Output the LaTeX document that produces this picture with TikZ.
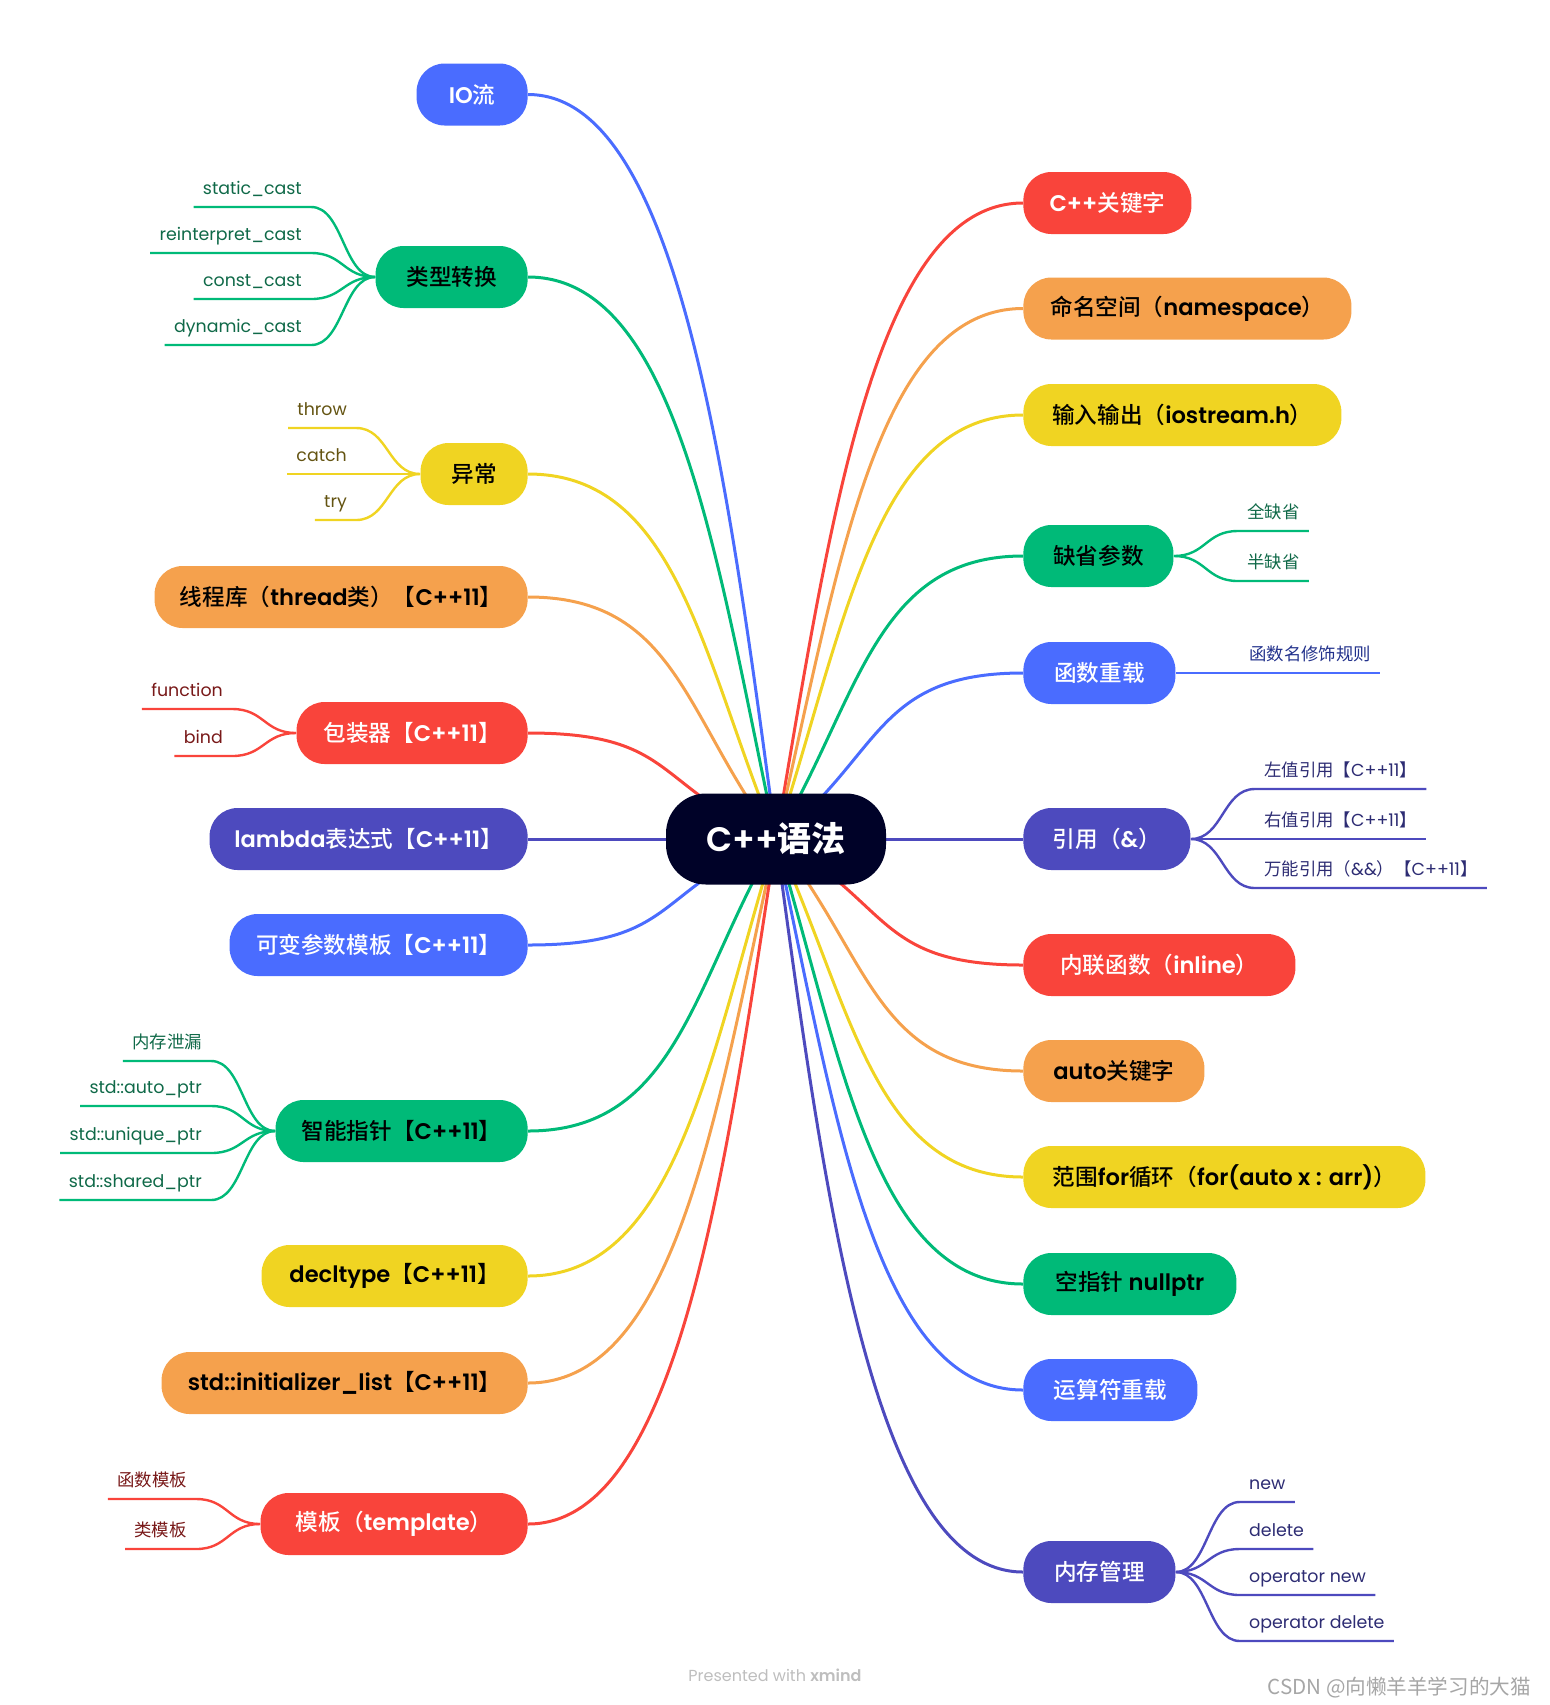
\documentclass[tikz,border=0pt]{standalone}
\usepackage{fontspec}
\setmainfont{Poppins}[BoldFont={Poppins SemiBold}]
\newfontfamily\zh{Noto Sans CJK SC}
\newfontfamily\zhm{Noto Sans CJK SC Medium}
\usetikzlibrary{calc,backgrounds,positioning}

\definecolor{cblue}{RGB}{74,108,255}
\definecolor{cgreen}{RGB}{0,186,120}
\definecolor{cyellow}{RGB}{240,212,34}
\definecolor{corange}{RGB}{245,161,77}
\definecolor{cred}{RGB}{249,68,59}
\definecolor{cindigo}{RGB}{77,74,190}
\definecolor{croot}{RGB}{0,2,40}
\definecolor{tgreen}{RGB}{15,105,72}
\definecolor{tyellow}{RGB}{100,84,18}
\definecolor{tred}{RGB}{120,24,24}
\definecolor{tblue}{RGB}{35,50,140}
\definecolor{tindigo}{RGB}{45,44,115}
\definecolor{tgray}{RGB}{190,190,190}

\newcommand\cn[1]{{\zhm\mdseries #1}}
\newcommand\cnb[1]{{\zh\bfseries #1}}
\newcommand\zhleaf[1]{{\zh #1}}

\tikzset{
  hub/.style   = {fill=croot, text=white, rounded corners=20pt, minimum width=110pt,
                  minimum height=45.5pt, inner sep=0pt, font=\fontsize{17}{20}\selectfont\bfseries},
  topic/.style = {fill=#1, rounded corners=14pt, minimum height=31pt, inner xsep=10pt,
                  inner ysep=0pt, font=\fontsize{11.3}{13}\selectfont\bfseries},
  leaf/.style  = {text=#1, inner xsep=4.5pt, inner ysep=0pt, text depth=6pt,
                  font=\fontsize{8.7}{10}\selectfont\let\cn\zhleaf},
  trunk/.style = {line width=1.5pt, draw=#1},
  twig/.style  = {line width=1.2pt, draw=#1},
}

\begin{document}
\begin{tikzpicture}[x=0.5pt, y=-0.5pt]
\useasboundingbox (0,0) rectangle (1550,1705);

\node[hub] (root) at (776,839) {C++\cnb{语法}};

% left topics
\node[topic=cblue, text=white, anchor=east, minimum width=55.5pt] (io) at (528,94.5) {IO\cn{流}};
\node[topic=cgreen, anchor=east, minimum width=76pt] (cast) at (528,277) {\cn{类型转换}};
\node[topic=cyellow, anchor=east, minimum width=53.5pt] (exc) at (528,474) {\cn{异常}};
\node[topic=corange, anchor=east, minimum width=186.5pt] (thread) at (528,597) {\cn{线程库（}thread\cn{类）【}C++11\cn{】}};
\node[topic=cred, text=white, anchor=east, minimum width=115.5pt] (wrap) at (528,733) {\cn{包装器【}C++11\cn{】}};
\node[topic=cindigo, text=white, anchor=east, minimum width=159pt] (lambda) at (528,839) {lambda\cn{表达式【}C++11\cn{】}};
\node[topic=cblue, text=white, anchor=east, minimum width=149pt] (varg) at (528,945) {\cn{可变参数模板【}C++11\cn{】}};
\node[topic=cgreen, anchor=east, minimum width=126pt] (smart) at (528,1131) {\cn{智能指针【}C++11\cn{】}};
\node[topic=cyellow, anchor=east, minimum width=133pt] (decl) at (528,1276) {decltype\cn{【}C++11\cn{】}};
\node[topic=corange, anchor=east, minimum width=183pt] (ilist) at (528,1383) {std::initializer\_list\cn{【}C++11\cn{】}};
\node[topic=cred, text=white, anchor=east, minimum width=133.5pt] (tmpl) at (528,1524) {\cn{模板（}template\cn{）}};

% right topics
\node[topic=cred, text=white, anchor=west, minimum width=84pt] (kw) at (1023,203) {C++\cn{关键字}};
\node[topic=corange, anchor=west, minimum width=164pt] (ns) at (1023,308.5) {\cn{命名空间（}namespace\cn{）}};
\node[topic=cyellow, anchor=west, minimum width=159pt] (iost) at (1023,415) {\cn{输入输出（}iostream.h\cn{）}};
\node[topic=cgreen, anchor=west, minimum width=75pt] (dflt) at (1023,556) {\cn{缺省参数}};
\node[topic=cblue, text=white, anchor=west, minimum width=76pt] (ovl) at (1023,673) {\cn{函数重载}};
\node[topic=cindigo, text=white, anchor=west, minimum width=83.5pt] (ref) at (1023,839) {\cn{引用（}\&\cn{）}};
\node[topic=cred, text=white, anchor=west, minimum width=136pt] (inl) at (1023,965) {\cn{内联函数（}inline\cn{）}};
\node[topic=corange, anchor=west, minimum width=90.5pt] (autok) at (1023,1071) {auto\cn{关键字}};
\node[topic=cyellow, anchor=west, minimum width=201pt] (rfor) at (1023,1177) {\cn{范围}for\cn{循环（}for(auto x : arr)\cn{）}};
\node[topic=cgreen, anchor=west, minimum width=106.5pt] (nullp) at (1023,1284) {\cn{空指针} nullptr};
\node[topic=cblue, text=white, anchor=west, minimum width=87pt] (opov) at (1023,1390) {\cn{运算符重载}};
\node[topic=cindigo, text=white, anchor=west, minimum width=76pt] (mem) at (1023,1572) {\cn{内存管理}};

\begin{scope}[on background layer]
  \foreach \nd/\al/\col in {io/0.20/cblue, cast/0.24/cgreen, exc/0.30/cyellow, thread/0.37/corange,
      wrap/0.50/cred, lambda/0.50/cindigo, varg/0.50/cblue, smart/0.34/cgreen,
      decl/0.27/cyellow, ilist/0.24/corange, tmpl/0.21/cred}
    \draw[trunk=\col] let \p1=(root.center), \p2=(\nd.east) in
      (\p1) .. controls ({\x1+\al*(\x2-\x1)},{\y1+0.5*(\y2-\y1)}) and ({\x2+0.6*(\x1-\x2)},{\y2}) .. (\p2);
  \foreach \nd/\al/\col in {kw/0.22/cred, ns/0.25/corange, iost/0.28/cyellow, dflt/0.34/cgreen,
      ovl/0.43/cblue, ref/0.50/cindigo, inl/0.47/cred, autok/0.38/corange,
      rfor/0.31/cyellow, nullp/0.27/cgreen, opov/0.24/cblue, mem/0.20/cindigo}
    \draw[trunk=\col] let \p1=(root.center), \p2=(\nd.west) in
      (\p1) .. controls ({\x1+\al*(\x2-\x1)},{\y1+0.5*(\y2-\y1)}) and ({\x2+0.6*(\x1-\x2)},{\y2}) .. (\p2);
\end{scope}

% left leaves
\foreach \t/\dy [count=\i] in {static\_cast/-70, reinterpret\_cast/-24, const\_cast/22, dynamic\_cast/68}{
  \node[leaf=tgreen, anchor=south east] (cast-\i) at ($(cast.west)+(-64,\dy)$) {\t};
  \draw[twig=cgreen] (cast.west) .. controls +(-32,0) and +(32,0) .. (cast-\i.south east) -- (cast-\i.south west);
}
\foreach \t/\dy [count=\i] in {throw/-46, catch/0, try/46}{
  \node[leaf=tyellow, anchor=south east] (exc-\i) at ($(exc.west)+(-64,\dy)$) {\t};
  \draw[twig=cyellow] (exc.west) .. controls +(-32,0) and +(32,0) .. (exc-\i.south east) -- (exc-\i.south west);
}
\foreach \t/\dy [count=\i] in {function/-24, bind/23}{
  \node[leaf=tred, anchor=south east] (wrap-\i) at ($(wrap.west)+(-64,\dy)$) {\t};
  \draw[twig=cred] (wrap.west) .. controls +(-32,0) and +(32,0) .. (wrap-\i.south east) -- (wrap-\i.south west);
}
\foreach \t/\dy [count=\i] in {\cn{内存泄漏}/-70, std::auto\_ptr/-25, std::unique\_ptr/22, std::shared\_ptr/69}{
  \node[leaf=tgreen, anchor=south east] (smart-\i) at ($(smart.west)+(-64,\dy)$) {\t};
  \draw[twig=cgreen] (smart.west) .. controls +(-32,0) and +(32,0) .. (smart-\i.south east) -- (smart-\i.south west);
}
\foreach \t/\dy [count=\i] in {\cn{函数模板}/-25, \cn{类模板}/25}{
  \node[leaf=tred, anchor=south east] (tmpl-\i) at ($(tmpl.west)+(-64,\dy)$) {\t};
  \draw[twig=cred] (tmpl.west) .. controls +(-32,0) and +(32,0) .. (tmpl-\i.south east) -- (tmpl-\i.south west);
}

% right leaves
\foreach \t/\dy [count=\i] in {\cn{全缺省}/-25, \cn{半缺省}/25}{
  \node[leaf=tgreen, anchor=south west] (dflt-\i) at ($(dflt.east)+(64,\dy)$) {\t};
  \draw[twig=cgreen] (dflt.east) .. controls +(32,0) and +(-32,0) .. (dflt-\i.south west) -- (dflt-\i.south east);
}
\node[leaf=tblue, anchor=south west] (ovl-1) at ($(ovl.east)+(64,0)$) {\cn{函数名修饰规则}};
\draw[twig=cblue] (ovl.east) -- (ovl-1.south west) -- (ovl-1.south east);
\foreach \t/\dy [count=\i] in {\cn{左值引用【}C++11\cn{】}/-50, \cn{右值引用【}C++11\cn{】}/0, \cn{万能引用（}\&\&\cn{）【}C++11\cn{】}/49}{
  \node[leaf=tindigo, anchor=south west] (ref-\i) at ($(ref.east)+(64,\dy)$) {\t};
  \draw[twig=cindigo] (ref.east) .. controls +(32,0) and +(-32,0) .. (ref-\i.south west) -- (ref-\i.south east);
}
\foreach \t/\dy [count=\i] in {new/-70, delete/-23, operator new/23, operator delete/69}{
  \node[leaf=tindigo, anchor=south west] (mem-\i) at ($(mem.east)+(64,\dy)$) {\t};
  \draw[twig=cindigo] (mem.east) .. controls +(32,0) and +(-32,0) .. (mem-\i.south west) -- (mem-\i.south east);
}

\node[text=tgray, font=\fontsize{8}{10}\selectfont] (credit) at (775,1675) {Presented with \textbf{xmind}};
\node[text=black!35, anchor=east, font=\zh\fontsize{10.3}{12}\selectfont] (mark) at (1538,1688) {CSDN @向懒羊羊学习的大猫};
\end{tikzpicture}
\end{document}
